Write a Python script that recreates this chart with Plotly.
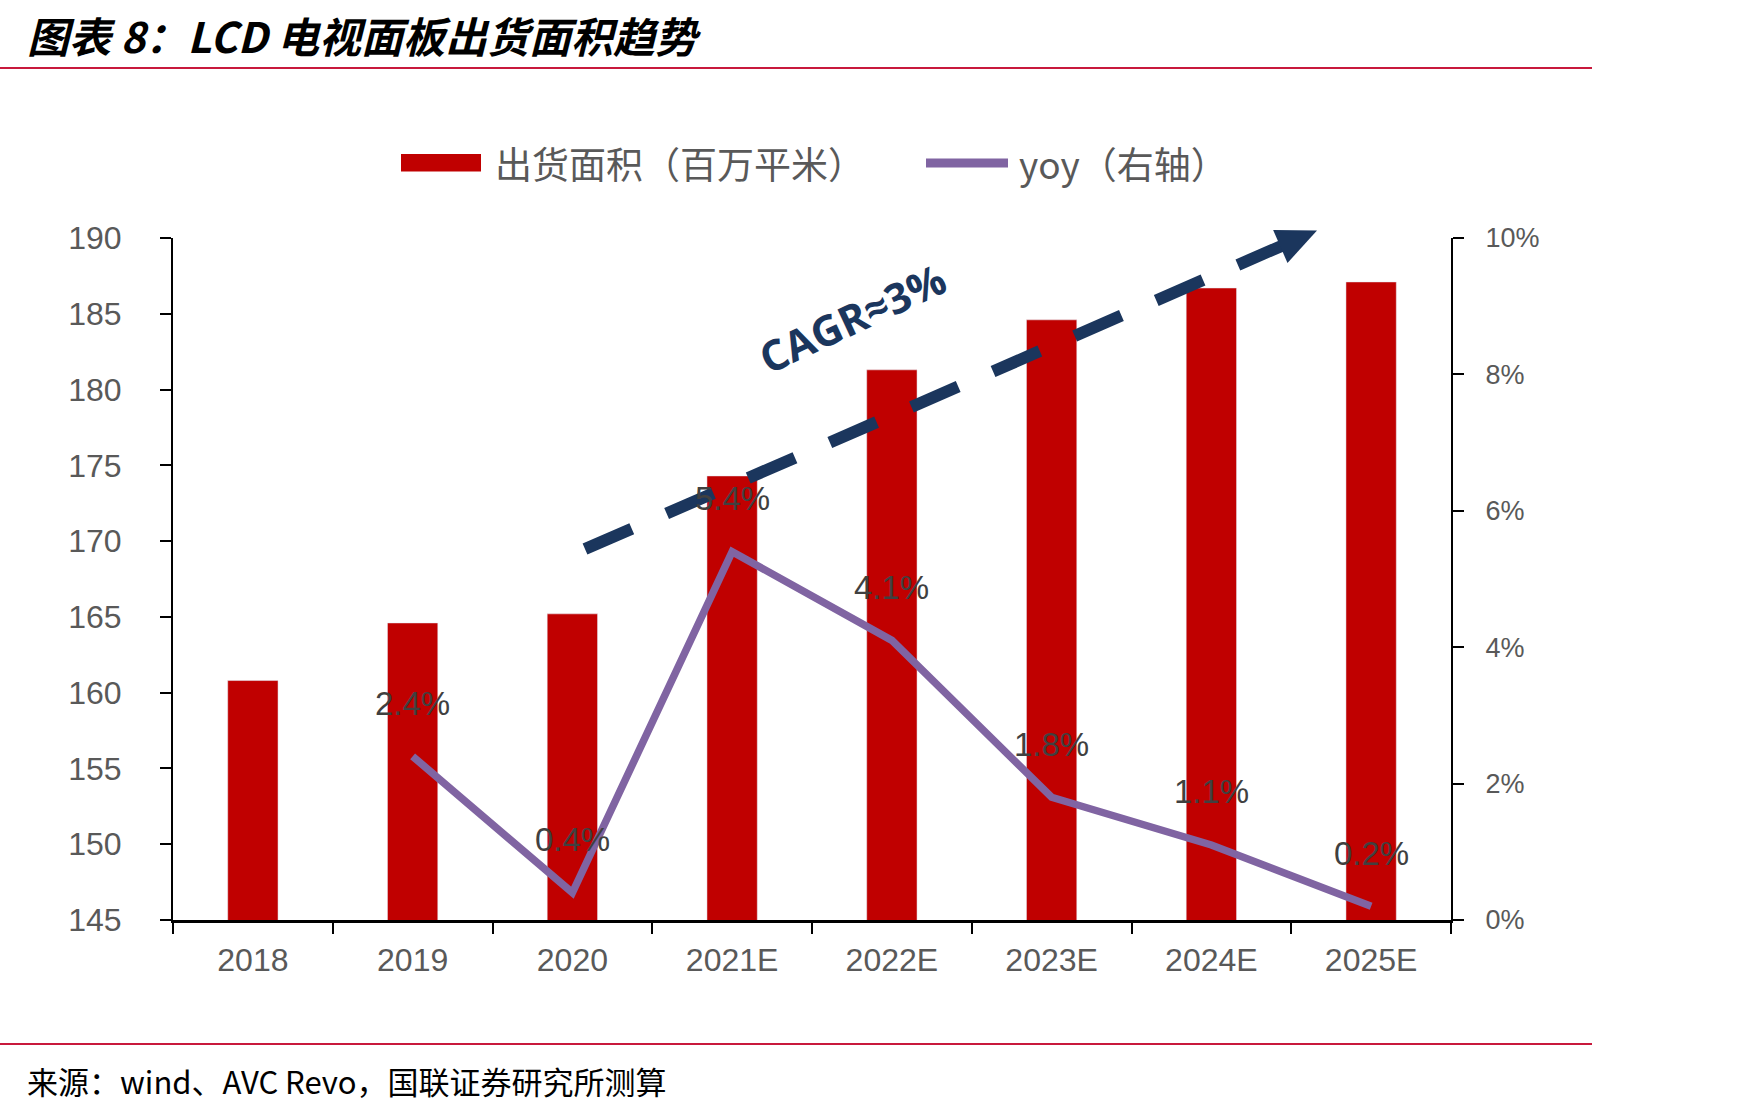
import math
import plotly.graph_objects as go

categories = ["2018", "2019", "2020", "2021E", "2022E", "2023E", "2024E", "2025E"]
area = [160.8, 164.6, 165.2, 174.3, 181.3, 184.6, 186.7, 187.1]
yoy = [None, 0.024, 0.004, 0.054, 0.041, 0.018, 0.011, 0.002]
yoy_labels = [None, "2.4%", "0.4%", "5.4%", "4.1%", "1.8%", "1.1%", "0.2%"]
left_ticks = [145, 150, 155, 160, 165, 170, 175, 180, 185, 190]
right_ticks = [0, 0.02, 0.04, 0.06, 0.08, 0.10]

W, H = 1746, 1110
L, R, T, B = 173, 1451, 238, 920
PW, PH = R - L, B - T


def px(x):
    return (x - L) / PW


def py(y):
    return (B - y) / PH


BAR = "#C00000"
PURPLE = "#8064A2"
NAVY = "#1B365D"
GRAY = "#595959"
RED_LINE = "#C8193C"
CJK = "Noto Sans CJK SC"
SANS = "Liberation Sans, Arial"

fig = go.Figure()
fig.add_trace(go.Bar(x=categories, y=area, marker_color=BAR, width=0.315,
                     name="出货面积（百万平米）", showlegend=False))
fig.add_trace(go.Scatter(x=categories, y=yoy, yaxis="y2", mode="lines",
                         line=dict(color=PURPLE, width=7.5), name="yoy（右轴）",
                         showlegend=False, connectgaps=False))

annotations = []
for i, (v, t) in enumerate(zip(yoy, yoy_labels)):
    if v is None:
        continue
    annotations.append(dict(x=i, y=v, xref="x", yref="y2", text=t, showarrow=False,
                            yshift=53, font=dict(family=SANS, size=33, color="#404040")))

# title and footer
annotations.append(dict(xref="paper", yref="paper", x=px(25), y=py(2), xanchor="left",
                        yanchor="top", showarrow=False,
                        text="<b><i>图表 8：LCD 电视面板出货面积趋势</i></b>",
                        font=dict(family=CJK, size=42, color="#000000")))
annotations.append(dict(xref="paper", yref="paper", x=px(25), y=py(1080), xanchor="left",
                        yanchor="middle", showarrow=False,
                        text="来源：wind、AVC Revo，国联证券研究所测算",
                        font=dict(family=CJK, size=31, color="#000000")))
# legend
annotations.append(dict(xref="paper", yref="paper", x=px(493), y=py(163), xanchor="left",
                        yanchor="middle", showarrow=False, text="出货面积（百万平米）",
                        font=dict(family=CJK, size=37, color=GRAY)))
annotations.append(dict(xref="paper", yref="paper", x=px(1017), y=py(163), xanchor="left",
                        yanchor="middle", showarrow=False, text="yoy（右轴）",
                        font=dict(family=CJK, size=37, color=GRAY)))
# CAGR text
annotations.append(dict(xref="paper", yref="paper", x=px(852), y=py(317), xanchor="center",
                        yanchor="middle", showarrow=False, text="<b>CAGR≈3%</b>", textangle=-25,
                        font=dict(family="Open Sans", size=42, color=NAVY)))

# arrow geometry
sx, sy = 585, 549
tx, ty = 1317, 230.5
dx, dy = tx - sx, ty - sy
ln = math.hypot(dx, dy)
ux, uy = dx / ln, dy / ln
nx, ny = -uy, ux
AL, AW = 40, 18
bx, by = tx - AL * ux, ty - AL * uy
v1 = (bx + AW * nx, by + AW * ny)
v2 = (bx - AW * nx, by - AW * ny)

shapes = [
    dict(type="line", xref="paper", yref="paper", x0=px(0), x1=px(1592), y0=py(68), y1=py(68),
         line=dict(color=RED_LINE, width=2)),
    dict(type="line", xref="paper", yref="paper", x0=px(0), x1=px(1592), y0=py(1044), y1=py(1044),
         line=dict(color=RED_LINE, width=2)),
    dict(type="rect", xref="paper", yref="paper", x0=px(401), x1=px(481), y0=py(171.5), y1=py(154),
         fillcolor=BAR, line=dict(width=0)),
    dict(type="line", xref="paper", yref="paper", x0=px(926), x1=px(1008), y0=py(163), y1=py(163),
         line=dict(color=PURPLE, width=9)),
    dict(type="line", xref="paper", yref="paper", layer="above", x0=px(sx), y0=py(sy),
         x1=px(bx + 2 * ux), y1=py(by + 2 * uy), line=dict(color=NAVY, width=12, dash="51px,38px")),
    dict(type="path", xref="paper", yref="paper", layer="above",
         path=f"M {px(tx)},{py(ty)} L {px(v1[0])},{py(v1[1])} L {px(v2[0])},{py(v2[1])} Z",
         fillcolor=NAVY, line=dict(width=0)),
]

fig.update_layout(
    width=W, height=H,
    margin=dict(l=L, r=W - R, t=T, b=H - B),
    paper_bgcolor="white", plot_bgcolor="white",
    showlegend=False,
    xaxis=dict(type="category", range=[-0.5, len(categories) - 0.5], showline=True,
               linecolor="black", linewidth=2.5,
               ticks="outside", tickson="boundaries", ticklen=11, tickwidth=2, tickcolor="black",
               showgrid=False, tickfont=dict(family=SANS, size=32, color=GRAY),
               tickangle=0, ticklabelstandoff=10),
    yaxis=dict(range=[145, 190], tickvals=left_ticks, showline=True, linecolor="black",
               linewidth=2, ticks="outside", ticklen=11, tickwidth=2, tickcolor="black",
               showgrid=False, zeroline=False, tickfont=dict(family=SANS, size=32, color=GRAY),
               ticklabelstandoff=32),
    yaxis2=dict(range=[0, 0.10], tickvals=right_ticks, tickformat=".0%", overlaying="y",
                side="right", showline=True, linecolor="black", linewidth=2, ticks="outside",
                ticklen=11, tickwidth=2, tickcolor="black", showgrid=False, zeroline=False,
                tickfont=dict(family=SANS, size=27, color=GRAY), ticklabelstandoff=16),
    annotations=annotations,
    shapes=shapes,
)

fig.write_html("out.html")
